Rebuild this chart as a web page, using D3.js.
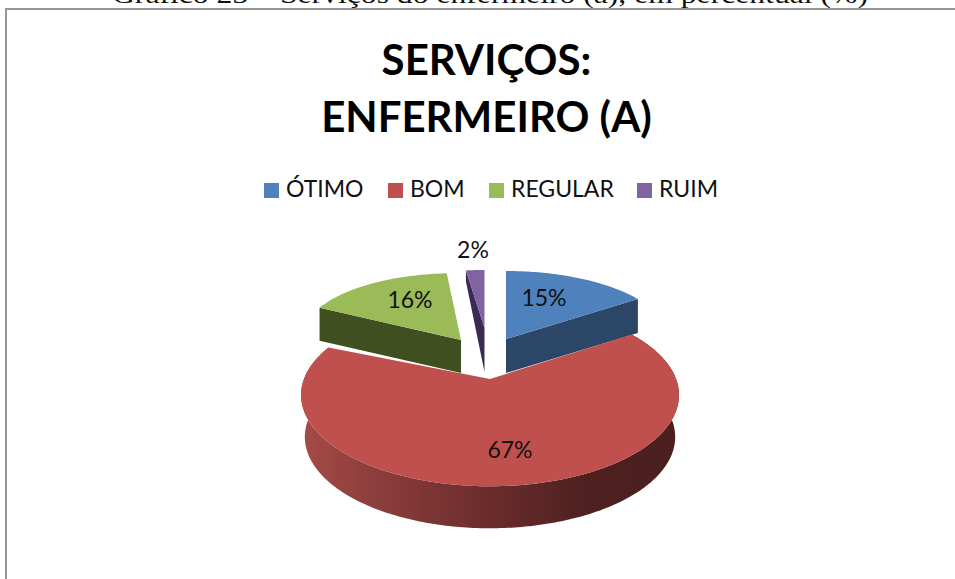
<!DOCTYPE html>
<html><head><meta charset="utf-8">
<style>html,body{margin:0;padding:0;background:#fff;overflow:hidden}svg{display:block}</style>
<script src="https://cdn.jsdelivr.net/npm/d3@7"></script>
</head><body><svg id="c" width="955" height="579"></svg>
<script>
const categories = ["ÓTIMO","BOM","REGULAR","RUIM"];
const percents = [15,67,16,2];
const colors = ["#4F81BD","#C0504D","#9BBB59","#8064A2"];
const sideColors = ["#2B4667","#7a3331","#404F1F","#3A2A54"];
const captionText = "Gráfico 23 – Serviços do enfermeiro (a), em percentual (%)";
const titleLines = ["SERVIÇOS:","ENFERMEIRO (A)"];

const svg = d3.select("#c");
const W=955,H=579;
svg.append("rect").attr("width",W).attr("height",H).attr("fill","#fff");
svg.append("text").attr("x",490).attr("y",3).attr("text-anchor","middle")
  .attr("textLength",756).attr("lengthAdjust","spacingAndGlyphs")
  .attr("font-family","'Liberation Serif'").attr("font-size",24.5).attr("fill","#111").text(captionText);
svg.append("path").attr("d",`M6,${H+5}V9H${W+5}`).attr("fill","none").attr("stroke","#959595").attr("stroke-width",2);

svg.append("g").selectAll("text").data(titleLines).join("text")
  .attr("x",486.5).attr("y",(d,i)=>75+i*57).attr("text-anchor","middle")
  .attr("font-family","Lato").attr("font-weight",700).attr("font-size",42).attr("fill","#000").text(d=>d);

// legend
const legendX = d3.scaleOrdinal().domain(categories).range([264,388,489,637]);
const color = d3.scaleOrdinal().domain(categories).range(colors);
const lg = svg.append("g").selectAll("g").data(categories).join("g")
  .attr("transform",d=>`translate(${legendX(d)},183)`);
lg.append("rect").attr("width",15).attr("height",15).attr("fill",d=>color(d));
lg.append("text").attr("x",22).attr("y",14).attr("font-family","Lato").attr("font-size",23).attr("fill","#111").text(d=>d);

// pie geometry: each exploded slice has its own projected disc
const layout = {
  "ÓTIMO":  {ax:506,ay:339,rx:163,ry:68,depth:34,p:0},
  "BOM":    {ax:490,ay:379,cy:384,rx:187.6,ry:90,depth:42,p:0.12,shrink:0.98},
  "REGULAR":{ax:461,ay:340,rx:159,ry:66.7,depth:33,p:0,shear:5.7,tilt:4.35},
  "RUIM":   {ax:484.5,ay:328,rx:148,ry:58,depth:44,p:0}
};
const pie = d3.pie().sort(null).value(d=>d).startAngle(0).endAngle(2*Math.PI);
const slices = pie(percents).map((s,i)=>({...s,name:categories[i],i}));
const line = d3.line();
function proj(L,t){
  const u=Math.sin(t), v=Math.cos(t), w=1+L.p*v;
  const cy = L.cy===undefined ? L.ay : L.cy;
  return [L.ax+L.rx*u/w+(L.shear||0)*v, cy-L.ry*v/w+(L.tilt||0)*u];
}
function rim(L,a,b){
  const n=Math.max(2,Math.ceil((b-a)*60));
  return d3.range(n+1).map(k=>proj(L,a+(b-a)*k/n));
}
const defs=svg.append("defs");
const grad=defs.append("linearGradient").attr("id","redside").attr("gradientUnits","userSpaceOnUse")
  .attr("x1",301).attr("x2",679).attr("y1",0).attr("y2",0);
[[0,"#A64A47"],[0.15,"#92403E"],[0.5,"#6A2C2B"],[0.75,"#4E2120"],[1,"#4A1F1E"]].forEach(s=>grad.append("stop").attr("offset",s[0]).attr("stop-color",s[1]));

const back = slices.filter(s=>s.name!=="BOM");
const pie3d = svg.append("g");
back.forEach(s=>{
  const L=layout[s.name], apex=[L.ax,L.ay], down=p=>[p[0],p[1]+L.depth];
  const r=rim(L,s.startAngle,s.endAngle);
  let side;
  if(s.name==="ÓTIMO"){ // right cut face
    const e=r[r.length-1]; side=[apex,e,down(e),down(apex)];
  } else if(s.name==="REGULAR"){ // left cut face
    const e=r[0]; side=[apex,e,down(e),down(apex)];
  } else { // narrow slice: cut face tapers to the rim
    const e=r[0]; side=[apex,e,[e[0],e[1]+L.depth/4],down(apex)];
  }
  pie3d.append("path").attr("d",line(side)+"Z").attr("fill",sideColors[s.i]);
  pie3d.append("path").attr("d",line([apex,...r])+"Z").attr("fill",colors[s.i]);
});
const red=slices.find(s=>s.name==="BOM"), RL=layout.BOM;
const rr=rim(RL,red.startAngle,red.endAngle);
const rb=rr.map(p=>[RL.ax+(p[0]-RL.ax)*RL.shrink,p[1]+RL.depth]);
pie3d.append("path").attr("d",line([...rr,...rb.slice().reverse()])+"Z").attr("fill","url(#redside)");
pie3d.append("path").attr("d",line([[RL.ax,RL.ay],...rr])+"Z").attr("fill",colors[red.i]);

// data labels sit on their slices
const labelPos = {"ÓTIMO":[544,306],"BOM":[510,458],"REGULAR":[410,308],"RUIM":[473,258]};
svg.append("g").selectAll("text").data(slices).join("text")
  .attr("x",d=>labelPos[d.name][0]).attr("y",d=>labelPos[d.name][1]).attr("text-anchor","middle")
  .attr("font-family","Lato").attr("font-size",23).attr("fill","#111").text(d=>d.value+"%");
</script></body></html>
